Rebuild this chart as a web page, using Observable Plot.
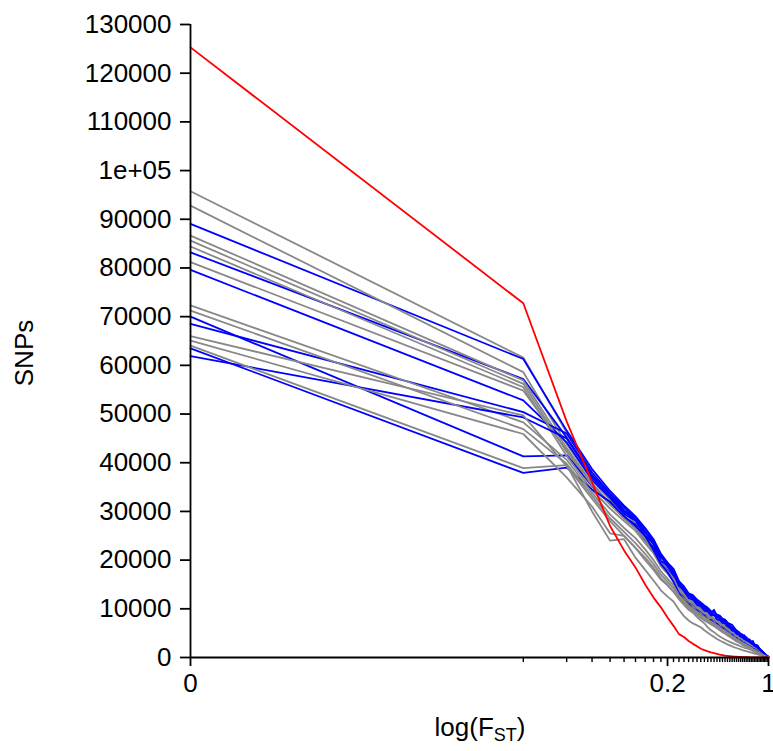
<!DOCTYPE html>
<html><head><meta charset="utf-8">
<script src="https://cdn.jsdelivr.net/npm/d3@7"></script>
<script src="https://cdn.jsdelivr.net/npm/@observablehq/plot@0.6"></script>
<style>html,body{margin:0;padding:0;background:#fff;} #chart svg{display:block;}</style>
</head><body><div id="chart"></div>
<script>
// FST bins (x), plotted on a log axis with a tiny offset so that 0 can be shown
const fstBins = [0, 0.02, 0.04, 0.06, 0.08, 0.1, 0.12, 0.14, 0.16, 0.18, 0.2, 0.22, 0.24, 0.26, 0.28, 0.3, 0.32, 0.34, 0.36, 0.38, 0.4, 0.42, 0.44, 0.46, 0.48, 0.5, 0.52, 0.54, 0.56, 0.58, 0.6, 0.62, 0.64, 0.66, 0.68, 0.7, 0.72, 0.74, 0.76, 0.78, 0.8, 0.82, 0.84, 0.86, 0.88, 0.9, 0.92, 0.94, 0.96, 0.98, 1];
const xOffset = 0.0001;
const xMajorTicks = [0, 0.2, 1];
const xMajorLabels = ["0", "0.2", "1"];
const yTicks = [0, 10000, 20000, 30000, 40000, 50000, 60000, 70000, 80000, 90000, 100000, 110000, 120000, 130000];
const yTickLabels = ["0", "10000", "20000", "30000", "40000", "50000", "60000", "70000", "80000", "90000", "1e+05", "110000", "120000", "130000"];

// SNP counts per bin
const red = [125300, 72750, 48500, 36000, 27000, 22000, 18500, 15000, 12300, 10300, 8200, 6500, 4800, 4200, 3400, 2800, 2300, 1800, 1500, 1250, 1050, 900, 750, 600, 500, 400, 330, 270, 220, 180, 150, 120, 100, 80, 70, 60, 50, 40, 35, 30, 25, 20, 15, 12, 10, 8, 6, 4, 3, 2, 1];
const blue1 = [89050, 61300, 46600, 38700, 34200, 31200, 29000, 26600, 24300, 21300, 19500, 18200, 15700, 14600, 13200, 12800, 11900, 11300, 10700, 10200, 9500, 9300, 8800, 8600, 8000, 7800, 7200, 6900, 6700, 6100, 5600, 5300, 4900, 4700, 4300, 4200, 3800, 3700, 3300, 3100, 2700, 2600, 2500, 2000, 1600, 1400, 1050, 800, 500, 300, 100];
const blue2 = [83200, 57200, 45200, 37400, 33600, 30200, 28700, 25600, 23900, 20500, 19400, 17300, 15500, 13800, 13100, 12000, 11600, 10600, 10500, 9600, 9400, 8600, 8700, 7900, 7800, 7200, 7000, 6300, 6200, 5500, 5400, 4800, 4700, 4300, 4100, 3800, 3700, 3300, 3200, 2800, 2600, 2300, 2100, 1800, 1600, 1250, 1000, 750, 500, 280, 120];
const blue3 = [79600, 52800, 44200, 36500, 32800, 29500, 28100, 25000, 23400, 19800, 18900, 16700, 14900, 13600, 12200, 11900, 10800, 10500, 9600, 9500, 8600, 8800, 7800, 7700, 7100, 7000, 6300, 6100, 5500, 5400, 4800, 4700, 4200, 4100, 3700, 3600, 3200, 3200, 2800, 2600, 2250, 2150, 1850, 1650, 1350, 1100, 900, 650, 420, 240, 100];
const blue4 = [70000, 41300, 41500, 35300, 31500, 28800, 27300, 24200, 22600, 19200, 18000, 16300, 13200, 12600, 11100, 10900, 9700, 9600, 8600, 8700, 7700, 7800, 6900, 7000, 6200, 6200, 5400, 5400, 4700, 4700, 4000, 4100, 3500, 3500, 3000, 3100, 2600, 2600, 2150, 2150, 1700, 1700, 1300, 1300, 950, 850, 600, 480, 280, 160, 50];
const blue5 = [68500, 50400, 46000, 38000, 33700, 30900, 28500, 26500, 24000, 21100, 19200, 18100, 15200, 14400, 12900, 12600, 11500, 11100, 10300, 10000, 9200, 9800, 8500, 8400, 7700, 7600, 6900, 6600, 6100, 5900, 5300, 5100, 4700, 4500, 4600, 4000, 3600, 3500, 3100, 3400, 2500, 2450, 2150, 1900, 1650, 1300, 1100, 780, 520, 300, 130];
const blue6 = [63500, 37900, 39000, 34500, 32000, 29000, 27000, 25000, 22000, 19200, 17500, 15500, 13200, 11800, 11000, 10000, 9700, 8800, 8600, 7800, 7700, 7000, 6900, 6300, 6100, 5600, 5300, 4800, 4700, 4150, 4000, 3600, 3500, 3100, 3000, 2650, 2550, 2250, 2150, 1800, 1700, 1400, 1300, 1000, 900, 650, 550, 350, 240, 120, 40];
const blue7 = [61900, 49300, 45000, 37000, 33100, 30000, 28300, 25900, 23200, 20800, 18700, 17700, 14700, 14000, 12700, 12200, 11200, 10800, 10000, 9700, 8900, 8700, 8200, 8200, 7500, 7300, 6600, 6400, 5800, 5700, 5100, 4900, 4500, 4300, 3900, 3800, 3400, 3400, 3000, 2750, 2400, 2300, 2000, 1750, 1450, 1200, 950, 720, 475, 275, 110];
const gray1 = [95750, 61600, 46200, 37900, 33300, 30600, 28400, 25800, 23500, 20600, 19300, 17500, 15300, 14000, 13000, 12300, 11400, 10900, 10200, 9800, 9100, 8900, 8400, 8100, 7700, 7400, 6800, 6500, 6000, 5700, 5200, 5000, 4600, 4400, 4000, 3900, 3500, 3400, 3100, 2900, 2500, 2400, 2050, 1850, 1500, 1300, 1000, 760, 480, 290, 110];
const gray2 = [92800, 58600, 43800, 36400, 32300, 29800, 27500, 25000, 22700, 19600, 18400, 16900, 14400, 13280, 12400, 11500, 10800, 10100, 9600, 9100, 8600, 8000, 7900, 7500, 7100, 6800, 6300, 6000, 5500, 5200, 4800, 4500, 4200, 3900, 3700, 3500, 3200, 3000, 2750, 2500, 2200, 2050, 1780, 1550, 1300, 1050, 840, 620, 400, 230, 90];
const gray3 = [86650, 56900, 43000, 35800, 31600, 29200, 26800, 24700, 22100, 19600, 17800, 16600, 13900, 13000, 11800, 11200, 10400, 9850, 9250, 8850, 8250, 7850, 7600, 7150, 6850, 6400, 6050, 5550, 5300, 4850, 4600, 4200, 4050, 3650, 3500, 3200, 3050, 2750, 2600, 2250, 2100, 1800, 1650, 1380, 1200, 930, 760, 540, 360, 200, 80];
const gray4 = [85600, 56200, 42200, 35100, 31500, 28500, 26500, 24000, 21500, 19100, 17600, 16300, 13600, 12500, 11500, 10600, 10100, 9500, 9000, 8500, 8200, 7600, 7200, 6900, 6300, 6100, 5700, 5300, 5000, 4600, 4300, 4000, 3800, 3500, 3200, 3050, 2800, 2600, 2350, 2100, 1900, 1700, 1470, 1260, 1050, 840, 660, 480, 300, 170, 60];
const gray5 = [84400, 55500, 41400, 34400, 30600, 28000, 26000, 23500, 21400, 18700, 17200, 15700, 13200, 12100, 11100, 10400, 9750, 9100, 8600, 8200, 7700, 7300, 6900, 6600, 6200, 5800, 5400, 5000, 4700, 4400, 4050, 3800, 3550, 3250, 3000, 2850, 2600, 2400, 2150, 1950, 1700, 1500, 1300, 1120, 930, 730, 570, 410, 250, 140, 50];
const gray6 = [81200, 54800, 42600, 35400, 31400, 28700, 26900, 24300, 21900, 19300, 17800, 16200, 13800, 12800, 11600, 11000, 10200, 9700, 9100, 8700, 8100, 7800, 7400, 7000, 6600, 6300, 5900, 5400, 5100, 4800, 4400, 4100, 3900, 3600, 3300, 3100, 2900, 2700, 2450, 2200, 2000, 1750, 1550, 1330, 1100, 900, 700, 500, 320, 180, 70];
const gray7 = [72300, 48300, 40600, 33800, 29400, 26600, 24500, 22200, 20000, 17700, 16200, 14800, 12800, 11800, 10700, 10000, 9400, 8800, 8300, 7800, 7400, 7000, 6600, 6200, 5800, 5500, 5100, 4800, 4400, 4100, 3800, 3600, 3300, 3000, 2800, 2600, 2400, 2200, 2000, 1750, 1550, 1350, 1160, 980, 800, 620, 480, 340, 200, 110, 30];
const gray8 = [71250, 46900, 39800, 33200, 28600, 25800, 23500, 21300, 19200, 17000, 15600, 14200, 12400, 11400, 10400, 9700, 9050, 8400, 7900, 7500, 7100, 6700, 6300, 5900, 5500, 5200, 4800, 4500, 4200, 3850, 3550, 3300, 3100, 2800, 2600, 2400, 2200, 2000, 1800, 1600, 1400, 1200, 1000, 840, 680, 510, 390, 270, 150, 80, 20];
const gray9 = [66000, 49700, 39300, 32600, 28000, 25000, 22500, 20500, 18500, 16300, 15000, 13500, 12000, 11000, 10000, 9300, 8700, 8100, 7600, 7200, 6800, 6400, 6000, 5600, 5200, 4900, 4500, 4200, 3900, 3600, 3300, 3100, 2900, 2600, 2400, 2200, 2000, 1800, 1600, 1400, 1200, 1000, 850, 700, 550, 400, 300, 200, 100, 50, 0];
const gray10 = [65100, 45900, 37000, 31000, 25500, 25000, 22500, 20000, 18000, 16000, 14800, 13500, 12000, 10800, 9800, 9200, 8300, 7600, 7000, 6200, 5600, 5200, 4700, 4300, 4000, 3700, 3450, 3200, 3000, 2800, 2650, 2500, 2300, 2150, 2000, 1900, 1800, 1650, 1550, 1400, 1300, 1150, 1000, 900, 780, 650, 500, 380, 250, 120, 30];
const gray11 = [64050, 38900, 39500, 30000, 24000, 24300, 20500, 18000, 15800, 13800, 12500, 11500, 9800, 8500, 7600, 7000, 6600, 6200, 5600, 5100, 4600, 4200, 3800, 3500, 3200, 2950, 2700, 2500, 2300, 2100, 1950, 1800, 1650, 1500, 1400, 1300, 1200, 1100, 1000, 900, 800, 720, 640, 560, 480, 400, 320, 240, 160, 80, 20];

const BLUE = "#0000ff", GRAY = "#888888", RED = "#ff0000";
// drawing order: grey and blue populations interleaved, red last
const seriesOrder = [
  ["gray1", gray1, GRAY], ["blue1", blue1, BLUE], ["gray2", gray2, GRAY], ["blue2", blue2, BLUE],
  ["gray3", gray3, GRAY], ["blue3", blue3, BLUE], ["gray4", gray4, GRAY], ["blue4", blue4, BLUE],
  ["gray5", gray5, GRAY], ["blue5", blue5, BLUE], ["gray6", gray6, GRAY], ["blue6", blue6, BLUE],
  ["gray7", gray7, GRAY], ["blue7", blue7, BLUE], ["gray8", gray8, GRAY], ["gray9", gray9, GRAY],
  ["gray10", gray10, GRAY], ["gray11", gray11, GRAY], ["red", red, RED]
];

function rowsOf(name, values) {
  return values.map((v, i) => ({series: name, fst: fstBins[i], xv: fstBins[i] + xOffset, snps: v}));
}

const minorTicks = fstBins.filter(f => !xMajorTicks.includes(f)).map(f => f + xOffset);
const majorTicks = xMajorTicks.map(f => f + xOffset);

const FONT = "'Liberation Sans', Arial, Helvetica, sans-serif";

const chart = Plot.plot({
  width: 773,
  height: 751,
  marginLeft: 190,
  marginRight: 5,
  marginTop: 24,
  marginBottom: 94,
  style: {fontFamily: FONT, fontSize: "26px", background: "#fff", color: "#000", overflow: "visible"},
  x: {type: "log", domain: [xOffset, 1 + xOffset]},
  y: {domain: [0, 130000]},
  marks: [
    ...seriesOrder.map(([name, vals, col]) =>
      Plot.line(rowsOf(name, vals), {x: "xv", y: "snps", stroke: col, strokeWidth: 1.8, strokeLinejoin: "round"})
    ),
    Plot.ruleY([0], {stroke: "#000", strokeWidth: 1.8}),
    Plot.ruleX([xOffset], {y1: 0, y2: 130000, stroke: "#000", strokeWidth: 1.8}),
    Plot.axisY({ticks: yTicks, tickSize: 10, tickPadding: 9, strokeWidth: 1.8,
      tickFormat: d => yTickLabels[yTicks.indexOf(d)], label: null}),
    Plot.axisX({ticks: majorTicks, tickSize: 9, tickPadding: 7, strokeWidth: 1.8,
      tickFormat: d => xMajorLabels[majorTicks.indexOf(d)], label: null}),
    Plot.axisX({ticks: minorTicks, tickSize: 5, strokeWidth: 1.4, tickFormat: () => "", label: null})
  ]
});

const svg = d3.select(chart);
// x-axis title with subscript
const xt = svg.append("text")
  .attr("x", 480).attr("y", 736)
  .attr("text-anchor", "middle")
  .style("font-family", FONT).style("font-size", "26px").attr("fill", "#000");
xt.append("tspan").text("log(F");
xt.append("tspan").attr("dy", 5).style("font-size", "18px").text("ST");
xt.append("tspan").attr("dy", -5).text(")");
// y-axis title
svg.append("text")
  .attr("transform", "translate(33,353) rotate(-90)")
  .attr("text-anchor", "middle")
  .style("font-family", FONT).style("font-size", "26px").attr("fill", "#000")
  .text("SNPs");

document.getElementById("chart").appendChild(chart);
</script>
</body></html>
